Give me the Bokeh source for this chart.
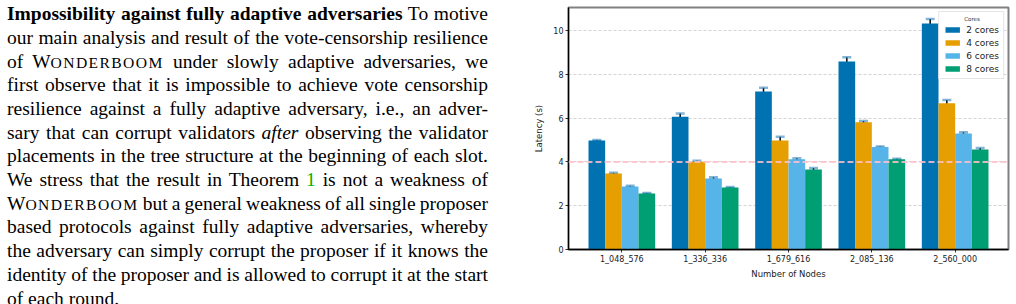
from bokeh.plotting import figure
from bokeh.models import (ColumnDataSource, Range1d, FixedTicker, Whisker, TeeHead,
                          Span, Legend, LegendItem, Div)
from bokeh.transform import dodge
from bokeh.layouts import row
from bokeh.embed import file_html
from bokeh.resources import INLINE

# ---- chart data ----
nodes = ["1_048_576", "1_336_336", "1_679_616", "2_085_136", "2_560_000"]
cores = ["2 cores", "4 cores", "6 cores", "8 cores"]
lat_2 = [4.98, 6.07, 7.22, 8.59, 10.33]
lat_4 = [3.47, 4.01, 4.98, 5.81, 6.68]
lat_6 = [2.88, 3.25, 4.12, 4.68, 5.30]
lat_8 = [2.56, 2.83, 3.66, 4.12, 4.57]
err_2 = [0.03, 0.15, 0.17, 0.20, 0.21]
err_4 = [0.04, 0.05, 0.17, 0.06, 0.15]
err_6 = [0.03, 0.05, 0.05, 0.03, 0.06]
err_8 = [0.02, 0.03, 0.07, 0.03, 0.07]
threshold = 4.0
colors = ["#0072B2", "#E69F00", "#56B4E9", "#009E73"]

# ---- paragraph text ----
SC = "W<span style='font-size:0.8em;letter-spacing:1.4px'>ONDERBOOM</span>"
para_lines = [
    "<b>Impossibility against fully adaptive adversaries</b> To motive",
    "our main analysis and result of the vote-censorship resilience",
    f"of {SC} under slowly adaptive adversaries, we",
    "first observe that it is impossible to achieve vote censorship",
    "resilience against a fully adaptive adversary, i.e., an adver-",
    "sary that can corrupt validators <i>after</i> observing the validator",
    "placements in the tree structure at the beginning of each slot.",
    "We stress that the result in Theorem <span style='color:#00b000'>1</span> is not a weakness of",
    f"{SC} but a general weakness of all single proposer",
    "based protocols against fully adaptive adversaries, whereby",
    "the adversary can simply corrupt the proposer if it knows the",
    "identity of the proposer and is allowed to corrupt it at the start",
    "of each round.",
]

html_lines = []
for i, ln in enumerate(para_lines):
    last = i == len(para_lines) - 1
    align = "left" if last else "justify"
    spacing = "0px" if last else "-1.5px"
    html_lines.append(
        f"<div style='height:23.7px;line-height:23.7px;width:481px;white-space:nowrap;"
        f"word-spacing:{spacing};text-align:{align};text-align-last:{align};'>{ln}</div>"
    )
html = ("<div style=\"position:relative;width:510px;height:304px;overflow:hidden;"
        "font-family:'Liberation Serif';font-size:19.5px;color:#000;"
        "padding-left:7px;padding-top:2.3px;box-sizing:border-box;\">"
        + "".join(html_lines) + "</div>")
text_div = Div(text=html, width=510, height=304, styles={"overflow": "hidden", "margin": "0"})

# ---- bar chart ----
src = ColumnDataSource(dict(
    idx=list(range(len(nodes))),
    lat_2=lat_2, lat_4=lat_4, lat_6=lat_6, lat_8=lat_8,
    up_2=[v + e for v, e in zip(lat_2, err_2)], lo_2=[v - e for v, e in zip(lat_2, err_2)],
    up_4=[v + e for v, e in zip(lat_4, err_4)], lo_4=[v - e for v, e in zip(lat_4, err_4)],
    up_6=[v + e for v, e in zip(lat_6, err_6)], lo_6=[v - e for v, e in zip(lat_6, err_6)],
    up_8=[v + e for v, e in zip(lat_8, err_8)], lo_8=[v - e for v, e in zip(lat_8, err_8)],
))

p = figure(width=506, height=304, x_range=Range1d(-0.64, 4.64), y_range=Range1d(0, 11.06),
           output_backend="svg", toolbar_location=None,
           min_border_left=58, min_border_right=8, min_border_top=7, min_border_bottom=55)
p.background_fill_color = "white"
p.border_fill_color = "white"
p.outline_line_color = "#808080"
p.outline_line_width = 2

keys = ["2", "4", "6", "8"]
offsets = [-0.3, -0.1, 0.1, 0.3]
renderers = []
for k, off, col in zip(keys, offsets, colors):
    r = p.vbar(x=dodge("idx", off), top=f"lat_{k}", width=0.2, source=src,
               fill_color=col, line_color=None)
    renderers.append(r)
for k, off in zip(keys, offsets):
    head = dict(size=9, line_color="#1f77b4", line_alpha=0.55, line_width=2.5)
    w = Whisker(base=dodge("idx", off), upper=f"up_{k}", lower=f"lo_{k}", source=src,
                line_color="black", line_width=1.5,
                upper_head=TeeHead(**head), lower_head=TeeHead(**head))
    p.add_layout(w)

p.add_layout(Span(location=threshold, dimension="width", line_color="pink",
                  line_alpha=0.85, line_width=2, line_dash="6 3"))

# grid
p.xgrid.visible = False
p.ygrid.grid_line_color = "#b0b0b0"
p.ygrid.grid_line_alpha = 0.7
p.ygrid.grid_line_dash = "3 2"
p.ygrid.grid_line_width = 0.8

# axes
p.xaxis.ticker = FixedTicker(ticks=list(range(len(nodes))))
p.xaxis.major_label_overrides = {i: n for i, n in enumerate(nodes)}
p.yaxis.ticker = FixedTicker(ticks=[0, 2, 4, 6, 8, 10])
for ax in (p.xaxis, p.yaxis):
    ax.axis_line_color = "black"
    ax.axis_line_width = 1.3
    ax.major_tick_line_color = "black"
    ax.major_tick_line_width = 0.8
    ax.major_tick_in = 0
    ax.major_tick_out = 3
    ax.minor_tick_line_color = None
    ax.major_label_text_font = "DejaVu Sans"
    ax.major_label_text_font_size = "8px"
    ax.major_label_text_color = "#222222"
    ax.major_label_standoff = 2
    ax.axis_label_text_font = "DejaVu Sans"
    ax.axis_label_text_font_size = "8.5px"
    ax.axis_label_text_font_style = "normal"
    ax.axis_label_text_color = "#222222"
p.xaxis.axis_label = "Number of Nodes"
p.yaxis.axis_label = "Latency (s)"
p.xaxis.axis_label_standoff = 2
p.yaxis.axis_label_standoff = 6

# legend heading is indented with no-break spaces so it sits over the middle of the box
legend = Legend(items=[LegendItem(label=c, renderers=[r]) for c, r in zip(cores, renderers)],
                location="top_right", margin=4, padding=4,
                title="\u00a0" * 12 + "Cores", title_text_font="DejaVu Sans",
                title_text_font_size="5.5px", title_text_color="#333333",
                title_text_font_style="normal", title_standoff=2,
                glyph_width=18, glyph_height=7, label_height=11, spacing=2,
                label_text_font="DejaVu Sans", label_text_font_size="9px",
                label_text_color="#222222", label_standoff=5,
                border_line_color="#cccccc", border_line_width=1,
                background_fill_alpha=0.85)
p.add_layout(legend)

layout = row(text_div, p)
open("out.html", "w").write(file_html(layout, INLINE))
